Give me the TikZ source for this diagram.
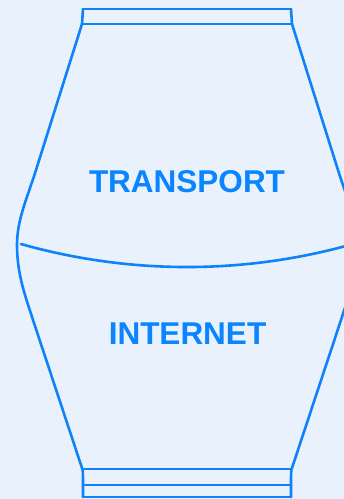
\documentclass[tikz,border=0pt]{standalone}
\usepackage{fontspec}
\setmainfont{Liberation Sans}
\definecolor{bg}{RGB}{232,241,252}
\definecolor{ln}{RGB}{14,130,250}
\definecolor{tx}{RGB}{10,132,255}
\tikzset{
  outline/.style={draw=ln, line width=2.6pt, line join=round, line cap=round},
  layertext/.style={text=tx, font=\fontsize{31.5}{36}\selectfont\bfseries, inner sep=0pt, anchor=center}
}
\begin{document}
\begin{tikzpicture}[x=1pt,y=-1pt]
\useasboundingbox (0,0) rectangle (344,499);
\fill[bg] (0,0) rectangle (344,499);
\clip (0,0) rectangle (344,499);
% left outline
\draw[outline] (83,9) .. controls (83,17) .. (82,24)
  -- (36,170) .. controls (26.5,200) and (17,220) .. (17,245)
  .. controls (17,275) and (26,298) .. (33,320)
  -- (82,468) .. controls (83,470) .. (83,497);
% right outline (mirror)
\draw[outline] (291,9) .. controls (291,17) .. (292,24)
  -- (338,170) .. controls (347.5,200) and (357,220) .. (357,245)
  .. controls (357,275) and (348,298) .. (341,320)
  -- (292,468) .. controls (291,470) .. (291,497);
% top rectangle
\draw[outline] (83,9) -- (291,9);
\draw[outline] (82,24) -- (292,24);
% bottom rectangle
\draw[outline] (83,469) -- (291,469);
\draw[outline] (83,485) -- (291,485);
\draw[outline] (83,497) -- (291,497);
% dividing curve
\draw[outline] (21,244) .. controls (129.5,274.7) and (244.5,274.7) .. (353,244);
% labels
\node[layertext] (transport) at (187,182) {TRANSPORT};
\node[layertext] (internet) at (187.5,334) {INTERNET};
\end{tikzpicture}
\end{document}
